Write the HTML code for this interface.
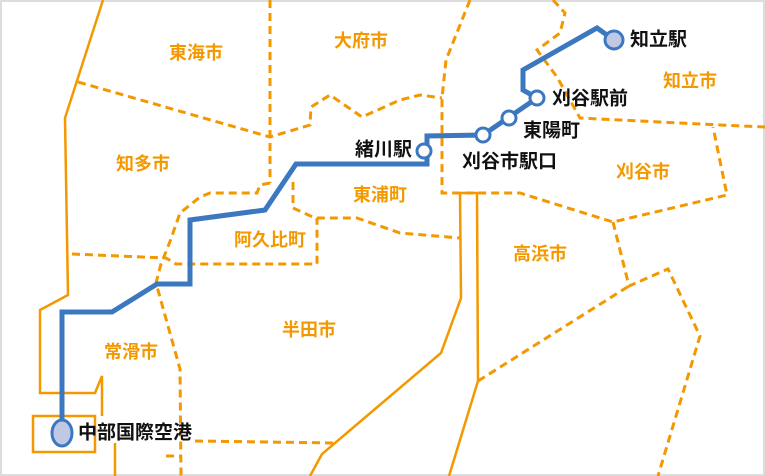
<!DOCTYPE html>
<html><head><meta charset="utf-8"><style>
html,body{margin:0;padding:0;background:#fff}
svg{display:block}
.o{fill:#f39800;font:bold 18px "Liberation Sans","Noto Sans CJK JP",sans-serif;text-anchor:middle;dominant-baseline:central}
.k{fill:#111;font:bold 19px "Liberation Sans","Noto Sans CJK JP",sans-serif;dominant-baseline:central}
</style></head><body>
<svg width="765" height="476" viewBox="0 0 765 476" xmlns="http://www.w3.org/2000/svg">
<rect x="1" y="1" width="763" height="474" fill="#fff" stroke="#ddd" stroke-width="2"/>
<g fill="none" stroke="#f39800" stroke-width="2.5">
<polyline points="103,0 65,118 68,295 40,310 40,393 95,393 102,376 102,416"/>
<rect x="33" y="416" width="62" height="36"/>
<polyline points="115,443 115,476"/>
<polyline points="460,193 461,298 441,353 322,454 310,476"/>
<polyline points="460,193 477,193 478,381 449,476"/>
</g>
<g fill="none" stroke="#f39800" stroke-width="3" stroke-dasharray="8,5">
<polyline points="270,0 270,183"/>
<polyline points="78,82 270,137 310,125 311,107 330,95 362,117 400,100 420,95 442,98"/>
<polyline points="470,0 446,60 442,98 442,193 520,193 613,222 727,195 713,127"/>
<polyline points="553,0 565,13 560,33 537,50 557,77 580,118 720,125 765,127"/>
<polyline points="613,222 629,286 668,269 700,336 658,476"/>
<polyline points="478,381 629,286"/>
<polyline points="270,183 260,185 257,193 210,193 200,197 180,213 173,233 171,239 161,264 156,283 180,369 181,476"/>
<polyline points="72,254 166,258 176,264 317,264 317,218"/>
<polyline points="293,182 293,208 315,218 357,218 400,233 460,238"/>
<polyline points="195,441 336,443"/>
<polyline points="166,456 180,456"/>
</g>
<polyline fill="none" stroke="#3b78bf" stroke-width="5" stroke-linejoin="miter" points="62,433 62,312 112,312 157,284 190,284 190,220 265,210 296,164 427,164 427,136 483,135 537,98 523,90 523,70 597,28 614,40"/>
<g stroke="#3b78bf" stroke-width="3">
<circle cx="614" cy="40" r="9" fill="#c0c8e4"/>
<circle cx="537" cy="98" r="7" fill="#fff"/>
<circle cx="509" cy="118" r="7" fill="#fff"/>
<circle cx="483" cy="135" r="7" fill="#fff"/>
<circle cx="424" cy="151" r="7" fill="#fff"/>
<ellipse cx="62" cy="433" rx="10" ry="13" fill="#c0c8e4"/>
</g>
<text class="o" x="196" y="53">東海市</text>
<text class="o" x="361" y="41">大府市</text>
<text class="o" x="143" y="164">知多市</text>
<text class="o" x="380" y="195">東浦町</text>
<text class="o" x="270" y="240">阿久比町</text>
<text class="o" x="540" y="254">高浜市</text>
<text class="o" x="309" y="330">半田市</text>
<text class="o" x="131" y="352">常滑市</text>
<text class="o" x="690" y="81">知立市</text>
<text class="o" x="643" y="172">刈谷市</text>
<text class="k" x="630" y="40">知立駅</text>
<text class="k" x="552" y="99">刈谷駅前</text>
<text class="k" x="523" y="131">東陽町</text>
<text class="k" x="462" y="162">刈谷市駅口</text>
<text class="k" x="412" y="150" text-anchor="end">緒川駅</text>
<text class="k" x="78" y="433">中部国際空港</text>
</svg>
</body></html>
